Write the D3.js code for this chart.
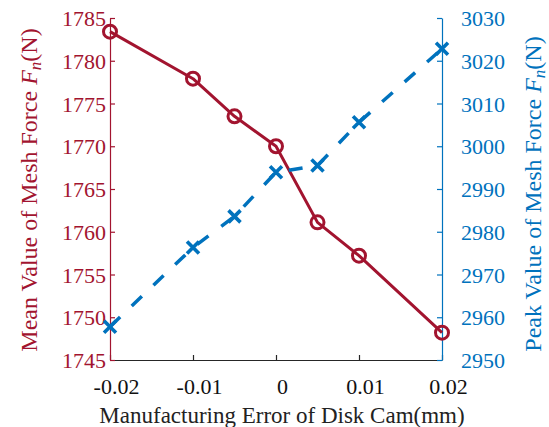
<!DOCTYPE html>
<html>
<head>
<meta charset="utf-8">
<script src="https://cdn.jsdelivr.net/npm/d3@7"></script>
<style>
  html, body { margin: 0; padding: 0; background: #fff; }
  svg { display: block; }
</style>
</head>
<body>
<svg id="chart" width="549" height="427"></svg>
<script>
// Manufacturing error of the disk cam (mm)
const errors = [-0.02, -0.01, -0.005, 0, 0.005, 0.01, 0.02];
// Mean value of mesh force Fn (N), left axis
const meanForce = [1783.4, 1777.9, 1773.5, 1770.0, 1761.1, 1757.2, 1748.2];
// Peak value of mesh force Fn (N), right axis
const peakForce = [2957.8, 2976.3, 2983.6, 2993.9, 2995.5, 3005.6, 3022.8];

const xTicks = [-0.02, -0.01, 0, 0.01, 0.02];
const xTickLabels = ["-0.02", "-0.01", "0", "0.01", "0.02"];
const leftTicks = [1745, 1750, 1755, 1760, 1765, 1770, 1775, 1780, 1785];
const rightTicks = [2950, 2960, 2970, 2980, 2990, 3000, 3010, 3020, 3030];

const RED = "#A2142F";
const BLUE = "#0072BD";
const AXIS_BLACK = "#262626";
const SERIF = "'Liberation Serif', 'Times New Roman', serif";

const svg = d3.select("#chart");
const plot = { left: 110, right: 442, top: 18, bottom: 360 };

const x = d3.scaleLinear().domain([-0.02, 0.02]).range([plot.left, plot.right]);
const yL = d3.scaleLinear().domain([1745, 1785]).range([plot.bottom, plot.top]);
const yR = d3.scaleLinear().domain([2950, 3030]).range([plot.bottom, plot.top]);

function styleAxis(g, color, textColor) {
  g.attr("font-family", null).attr("font-size", null);
  g.select(".domain").attr("stroke", color).attr("stroke-width", 1.2);
  g.selectAll(".tick line").attr("stroke", color).attr("stroke-width", 1.2);
  g.selectAll(".tick text").attr("fill", textColor)
    .style("font-family", SERIF).style("font-size", "22px");
}

// Bottom axis, ticks pointing inward
const xAxis = d3.axisBottom(x).tickValues(xTicks).tickSizeInner(-5).tickSizeOuter(0)
  .tickFormat((d, i) => xTickLabels[i]);
const gx = svg.append("g").attr("transform", `translate(0,${plot.bottom})`).call(xAxis);
styleAxis(gx, AXIS_BLACK, "#111");
gx.selectAll(".tick text").attr("y", 0).attr("dy", 34).attr("dx", 6);

// Left axis (red)
const yAxisL = d3.axisLeft(yL).tickValues(leftTicks).tickSizeInner(-5).tickSizeOuter(0)
  .tickFormat(d3.format("d"));
const gl = svg.append("g").attr("transform", `translate(${plot.left},0)`).call(yAxisL);
styleAxis(gl, RED, RED);
gl.selectAll(".tick text").attr("x", -4).attr("dy", "0.35em");

// Right axis (blue)
const yAxisR = d3.axisRight(yR).tickValues(rightTicks).tickSizeInner(-5).tickSizeOuter(0)
  .tickFormat(d3.format("d"));
const gr = svg.append("g").attr("transform", `translate(${plot.right},0)`).call(yAxisR);
styleAxis(gr, BLUE, BLUE);
gr.selectAll(".tick text").attr("x", 19).attr("dy", "0.35em");

// Mean force: solid red line with hollow circles
const lineL = d3.line().x((d, i) => x(errors[i])).y(d => yL(d));
svg.append("path").datum(meanForce).attr("d", lineL)
  .attr("fill", "none").attr("stroke", RED).attr("stroke-width", 3)
  .attr("stroke-linejoin", "round");
svg.append("g").selectAll("circle").data(meanForce).join("circle")
  .attr("cx", (d, i) => x(errors[i])).attr("cy", d => yL(d)).attr("r", 6.5)
  .attr("fill", "none").attr("stroke", RED).attr("stroke-width", 3);

// Peak force: dashed blue line with cross markers
const lineR = d3.line().x((d, i) => x(errors[i])).y(d => yR(d));
svg.append("path").datum(peakForce).attr("d", lineR)
  .attr("fill", "none").attr("stroke", BLUE).attr("stroke-width", 3.5)
  .attr("stroke-dasharray", "14,16");
const s = 6;
svg.append("g").selectAll("path").data(peakForce).join("path")
  .attr("d", (d, i) => {
    const cx = x(errors[i]), cy = yR(d);
    return `M${cx - s},${cy - s}L${cx + s},${cy + s}M${cx - s},${cy + s}L${cx + s},${cy - s}`;
  })
  .attr("fill", "none").attr("stroke", BLUE).attr("stroke-width", 3.6);

// Axis titles
svg.append("text")
  .attr("x", (plot.left + plot.right) / 2 + 6).attr("y", 423)
  .attr("text-anchor", "middle")
  .style("font-family", SERIF).style("font-size", "23px").attr("fill", "#222")
  .text("Manufacturing Error of Disk Cam(mm)");

function forceTitle(prefix, color, tx, ty) {
  const t = svg.append("text")
    .attr("transform", `translate(${tx},${ty}) rotate(-90)`)
    .attr("text-anchor", "middle")
    .style("font-family", SERIF).style("font-size", "24px").attr("fill", color);
  t.append("tspan").text(prefix + " ");
  t.append("tspan").attr("font-style", "italic").text("F");
  t.append("tspan").attr("font-style", "italic").style("font-size", "17px").attr("dy", 4).text("n");
  t.append("tspan").attr("dy", -4).text("(N)");
}
forceTitle("Mean Value of Mesh Force", RED, 37, 190);
forceTitle("Peak Value of Mesh Force", BLUE, 541, 194);
</script>
</body>
</html>
